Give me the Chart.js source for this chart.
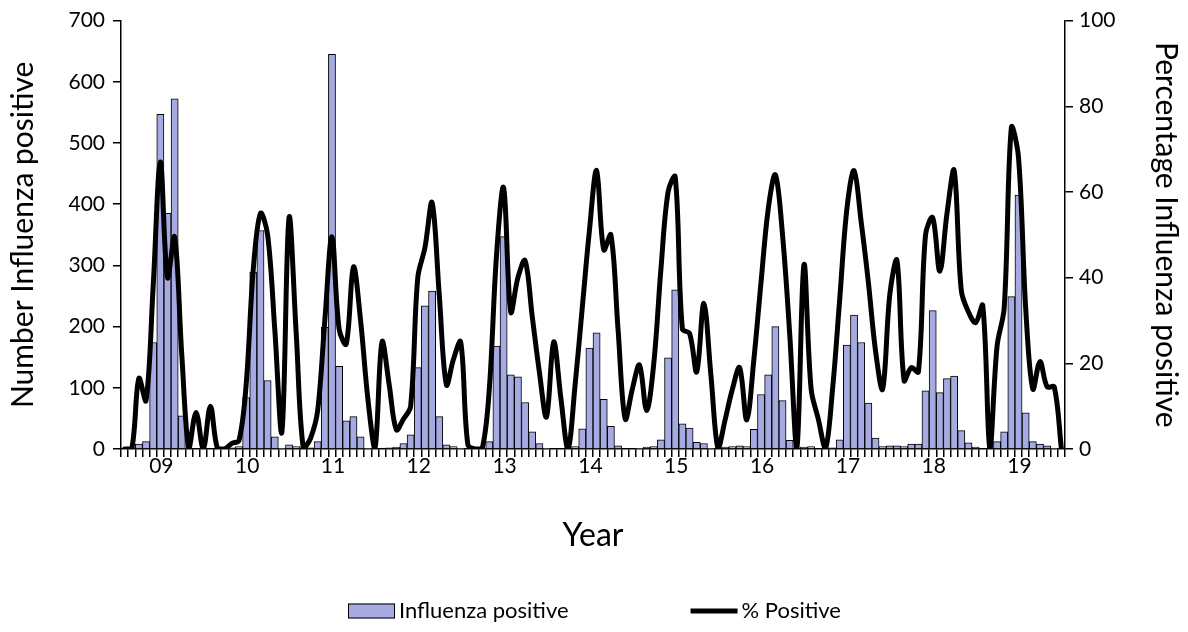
<!DOCTYPE html>
<html>
<head>
<meta charset="utf-8">
<script src="https://cdn.jsdelivr.net/npm/chart.js@4.4.0/dist/chart.umd.min.js"></script>
<style>
  body { margin: 0; background: #fff; }
  canvas { display: block; }
</style>
</head>
<body>
<canvas id="flu" width="1188" height="632"></canvas>
<script>
// year labels, one every 12 months starting at month index 5
const yearLabels = ['09', '10', '11', '12', '13', '14', '15', '16', '17', '18', '19'];
const firstLabelMonth = 5;

// monthly counts (left axis)
const influenzaPositive = [
  0, 2, 8, 12, 174, 547, 385, 572, 54, 1, 0, 1,
  0, 0, 1, 2, 4, 84, 289, 357, 112, 20, 1, 7,
  4, 2, 2, 12, 199, 645, 135, 46, 53, 20, 1, 0,
  0, 2, 3, 9, 23, 133, 234, 258, 53, 7, 4, 1,
  0, 0, 1, 12, 168, 347, 121, 118, 76, 28, 9, 1,
  0, 0, 1, 4, 33, 165, 190, 81, 37, 5, 0, 0,
  1, 3, 4, 15, 149, 260, 41, 34, 11, 9, 1, 0,
  3, 4, 5, 4, 32, 89, 121, 200, 79, 14, 0, 3,
  4, 0, 0, 2, 15, 170, 219, 174, 75, 18, 4, 5,
  5, 4, 8, 8, 95, 226, 92, 115, 119, 30, 10, 3,
  0, 0, 12, 28, 249, 415, 59, 12, 8, 5, 1, 0
];

// monthly % positive (right axis)
const percentPositive = [
  0, 0, 16.5, 11.3, 38, 67, 40, 49.5, 22, 0, 8.5, 0,
  10, 0, 0, 1.3, 2, 15, 42, 55, 50, 28, 4, 54,
  27, 0, 2.5, 9, 30, 49.5, 28, 24.5, 42.5, 30, 12, 0,
  25, 15, 4.5, 7, 10, 40, 47, 57.5, 36, 15, 21, 25,
  1, 0, 0, 14, 45, 61, 32, 40, 44, 31, 18, 7.5,
  25, 12, 0, 15, 33, 51, 65, 46.5, 50, 28, 7, 14,
  19.6, 9, 20, 42, 60, 63.5, 28, 27, 18, 34, 17, 0,
  7, 14, 19, 6.8, 21, 39, 56, 64, 50, 27, 0, 43,
  14, 7, 0, 14, 35, 56, 65, 53, 39, 23, 14, 36,
  44, 16, 19, 18, 50, 54, 41.5, 55, 65, 37, 32, 29.5,
  33.5, 0, 24, 33, 75, 68, 33, 14, 20.4, 14.5, 14.5, 0
];

const monthLabels = influenzaPositive.map((v, i) => {
  const k = i - firstLabelMonth;
  return k >= 0 && k % 12 === 0 ? yearLabels[k / 12] : '';
});

const fontFamily = 'Lato, Carlito, Calibri, sans-serif';
Chart.defaults.font.family = fontFamily;
Chart.defaults.color = '#000';

const axisLine = { color: '#000', width: 1.5 };
const tickGrid = { drawOnChartArea: false, color: '#000', tickLength: 8, lineWidth: 1.5 };

// legend row drawn Excel-style: symbol right next to its text, wide gap between entries
const legendRow = {
  id: 'legendRow',
  afterDraw(chart) {
    const ctx = chart.ctx;
    const [bars, line] = chart.data.datasets;
    const y = 611, sym = 47, gap = 4, itemGap = 122;
    ctx.save();
    ctx.font = '22px ' + fontFamily;
    ctx.textBaseline = 'middle';
    const w1 = ctx.measureText(bars.label).width;
    const w2 = ctx.measureText(line.label).width;
    let x = Math.round((chart.width - (sym + gap + w1 + itemGap + sym + gap + w2)) / 2);

    ctx.fillStyle = bars.backgroundColor;
    ctx.fillRect(x, y - 7.5, sym, 15);
    ctx.strokeStyle = bars.borderColor;
    ctx.lineWidth = 1;
    ctx.strokeRect(x + 0.5, y - 7, sym - 1, 14);
    x += sym + gap;
    ctx.fillStyle = '#000';
    ctx.fillText(bars.label, x, y);
    x += w1 + itemGap;

    ctx.strokeStyle = line.borderColor;
    ctx.lineWidth = line.borderWidth;
    ctx.beginPath();
    ctx.moveTo(x, y);
    ctx.lineTo(x + sym, y);
    ctx.stroke();
    x += sym + gap;
    ctx.fillText(line.label, x, y);
    ctx.restore();
  }
};

new Chart(document.getElementById('flu'), {
  type: 'bar',
  data: {
    labels: monthLabels,
    datasets: [
      {
        label: 'Influenza positive',
        data: influenzaPositive,
        backgroundColor: '#a5aae1',
        borderColor: '#000',
        borderWidth: 1,
        barPercentage: 1,
        categoryPercentage: 1,
        yAxisID: 'y',
        order: 1
      },
      {
        type: 'line',
        label: '% Positive',
        data: percentPositive,
        borderColor: '#000',
        backgroundColor: '#000',
        borderWidth: 5,
        pointRadius: 0,
        tension: 0.35,
        borderJoinStyle: 'round',
        borderCapStyle: 'round',
        yAxisID: 'y2',
        order: 0
      }
    ]
  },
  options: {
    responsive: false,
    animation: false,
    devicePixelRatio: 1,
    layout: { padding: { top: 20, bottom: 0, left: 0, right: 0 } },
    plugins: {
      tooltip: { enabled: false },
      legend: { display: false }
    },
    scales: {
      x: {
        grid: Object.assign({ offset: true }, tickGrid),
        border: axisLine,
        ticks: { autoSkip: false, maxRotation: 0, minRotation: 0, padding: -3, labelOffset: 1, font: { size: 21 } },
        title: { display: true, text: 'Year', font: { size: 32 }, padding: { top: 0, bottom: 77 } },
        afterFit: s => { s.height = 183; }
      },
      y: {
        position: 'left',
        min: 0,
        max: 700,
        ticks: { stepSize: 100, padding: 8, font: { size: 21 } },
        grid: tickGrid,
        border: axisLine,
        title: { display: true, text: 'Number Influenza positive', font: { size: 30 }, padding: { top: 5, bottom: 0 } },
        afterFit: s => { s.width = 121; }
      },
      y2: {
        position: 'right',
        min: 0,
        max: 100,
        ticks: { stepSize: 20, padding: 6, font: { size: 21 } },
        grid: tickGrid,
        border: axisLine,
        title: { display: true, text: 'Percentage Influenza positive', font: { size: 30 }, padding: { top: 4, bottom: 0 } },
        afterFit: s => { s.width = 123; }
      }
    }
  },
  plugins: [legendRow]
});
</script>
</body>
</html>
